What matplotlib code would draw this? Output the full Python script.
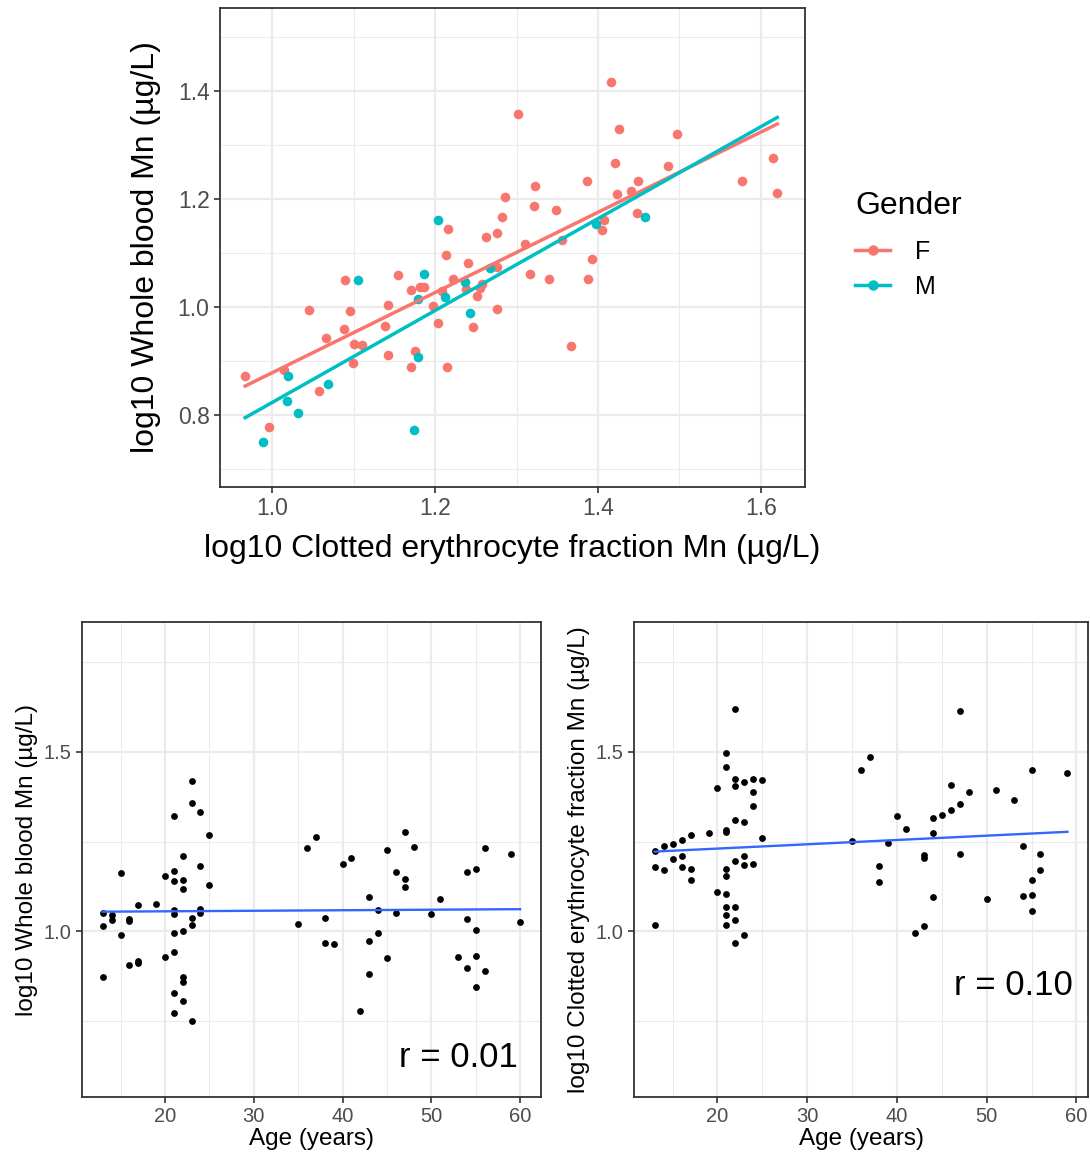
import matplotlib
matplotlib.use("Agg")
import matplotlib.pyplot as plt
from matplotlib.lines import Line2D
from matplotlib.ticker import MultipleLocator
import numpy as np

plt.rcParams['font.family'] = ['Liberation Sans', 'DejaVu Sans']

# top panel: clotted erythrocyte (x) vs whole blood (y), by gender
f_ce = [1.302, 1.216, 1.286, 1.282, 1.276, 1.262, 1.214, 1.240, 1.276, 1.154, 1.090, 1.222,
        0.967, 1.015, 0.996, 1.057, 1.045, 1.066, 1.088, 1.096, 1.101, 1.110, 1.099, 1.139,
        1.142, 1.142, 1.171, 1.182, 1.186, 1.198, 1.204, 1.175, 1.171, 1.215, 1.209, 1.238,
        1.258, 1.255, 1.251, 1.246, 1.276, 1.416, 1.426, 1.497, 1.421, 1.387, 1.323, 1.322,
        1.349, 1.423, 1.441, 1.449, 1.486, 1.577, 1.615, 1.620, 1.448, 1.407, 1.405, 1.356,
        1.311, 1.393, 1.317, 1.340, 1.388, 1.367]
f_wb = [1.357, 1.144, 1.204, 1.167, 1.138, 1.130, 1.097, 1.081, 1.075, 1.059, 1.050, 1.052,
        0.872, 0.883, 0.778, 0.844, 0.994, 0.943, 0.959, 0.993, 0.932, 0.930, 0.896, 0.966,
        1.004, 0.911, 1.031, 1.037, 1.037, 1.002, 0.971, 0.919, 0.889, 0.889, 1.030, 1.033,
        1.042, 1.036, 1.021, 0.963, 0.996, 1.417, 1.330, 1.320, 1.267, 1.234, 1.225, 1.188,
        1.180, 1.210, 1.215, 1.233, 1.262, 1.234, 1.276, 1.212, 1.175, 1.162, 1.142, 1.125,
        1.117, 1.090, 1.061, 1.052, 1.052, 0.928]
m_ce = [1.203, 1.268, 1.186, 1.105, 1.019, 1.018, 1.032, 0.989, 1.068, 1.179, 1.179, 1.174,
        1.212, 1.237, 1.243, 1.458, 1.398]
m_wb = [1.162, 1.072, 1.062, 1.050, 0.873, 0.826, 0.804, 0.750, 0.857, 1.016, 0.907, 0.772,
        1.018, 1.046, 0.990, 1.167, 1.154]

# bottom left: age vs whole blood
age_wb = [23, 23, 24, 21, 25, 22, 24, 15, 21, 20, 21, 22, 22, 25, 17, 19, 13, 14, 14, 13,
          16, 16, 15, 21, 21, 23, 23, 24, 24, 22, 21, 21, 20, 16, 17, 17, 13, 22, 22, 21,
          22, 21, 23, 36, 35, 37, 38, 38, 39, 40, 41, 43, 44, 43, 44, 43, 42, 45, 45, 46,
          46, 47, 47, 47, 48, 50, 51, 54, 55, 56, 54, 55, 53, 55, 54, 56, 55, 59, 60]
wb = [1.417, 1.358, 1.331, 1.320, 1.267, 1.211, 1.181, 1.162, 1.168, 1.154, 1.139, 1.143,
      1.117, 1.130, 1.074, 1.077, 1.050, 1.047, 1.032, 1.016, 1.035, 1.030, 0.990, 1.061,
      1.049, 1.037, 1.018, 1.063, 1.051, 1.001, 0.995, 0.943, 0.930, 0.908, 0.918, 0.912,
      0.873, 0.874, 0.860, 0.828, 0.806, 0.773, 0.752, 1.233, 1.022, 1.263, 1.038, 0.968,
      0.964, 1.188, 1.205, 1.097, 1.061, 0.973, 0.995, 0.883, 0.780, 1.226, 0.927, 1.164,
      1.050, 1.277, 1.145, 1.125, 1.235, 1.049, 1.090, 1.164, 1.175, 1.232, 1.035, 1.004,
      0.929, 0.933, 0.898, 0.889, 0.845, 1.214, 1.026]
# fitted line ends (age, value)
fit_wb_age = [13, 60]
fit_wb = [1.055, 1.062]

# bottom right: age vs clotted erythrocyte fraction
age_ce = [22, 21, 21, 20, 22, 22, 23, 24, 25, 24, 24, 22, 23, 21, 21, 25, 19, 17, 16, 15,
          14, 13, 13, 14, 15, 16, 16, 17, 17, 21, 21, 22, 23, 23, 24, 20, 21, 21, 22, 21,
          22, 21, 13, 23, 22, 36, 35, 37, 39, 38, 38, 40, 41, 43, 43, 44, 44, 45, 46, 46,
          47, 47, 47, 48, 44, 42, 43, 50, 51, 53, 54, 55, 56, 56, 55, 54, 55, 55, 59]
ce = [1.619, 1.496, 1.456, 1.398, 1.423, 1.403, 1.416, 1.424, 1.421, 1.387, 1.348, 1.311,
      1.304, 1.282, 1.276, 1.261, 1.275, 1.267, 1.253, 1.242, 1.237, 1.223, 1.179, 1.170,
      1.202, 1.210, 1.179, 1.173, 1.142, 1.174, 1.154, 1.197, 1.211, 1.186, 1.187, 1.110,
      1.103, 1.067, 1.069, 1.045, 1.032, 1.018, 1.019, 0.989, 0.968, 1.449, 1.251, 1.485,
      1.245, 1.181, 1.138, 1.321, 1.286, 1.213, 1.204, 1.316, 1.275, 1.323, 1.406, 1.338,
      1.614, 1.355, 1.215, 1.387, 1.095, 0.996, 1.014, 1.090, 1.392, 1.366, 1.237, 1.448,
      1.214, 1.170, 1.142, 1.099, 1.101, 1.058, 1.440]
fit_ce_age = [13, 59]
fit_ce = [1.222, 1.277]

r_left = "r = 0.01"
r_right = "r = 0.10"

RED = "#F8766D"
CYAN = "#00BFC4"
BLUE = "#3366FF"


def bw_style(ax, tick_size):
    ax.set_facecolor("white")
    for s in ax.spines.values():
        s.set_color("#333333")
        s.set_linewidth(1.3)
    ax.grid(True, which="major", color="#EBEBEB", linewidth=1.6, zorder=0)
    ax.grid(True, which="minor", color="#EBEBEB", linewidth=0.8, zorder=0)
    ax.set_axisbelow(True)
    ax.tick_params(which="major", length=4, width=1.2, color="#333333",
                   labelcolor="#4D4D4D", labelsize=tick_size)
    ax.tick_params(which="minor", length=0)


fig = plt.figure(figsize=(10.9, 11.59), dpi=100)

# ---- top panel
ax = fig.add_axes([0.2018, 0.5798, 0.5367, 0.4133])
bw_style(ax, 16.5)
xs_all = np.array(f_ce + m_ce)
xline = np.array([xs_all.min(), xs_all.max()])
for xs, ys, col in [(f_ce, f_wb, RED), (m_ce, m_wb, CYAN)]:
    ax.scatter(xs, ys, s=48, color=col, linewidths=0, zorder=3)
    k, b = np.polyfit(xs, ys, 1)
    ax.plot(xline, k * xline + b, color=col, lw=2.5, zorder=4)
ax.set_xlim(0.936, 1.654)
ax.set_ylim(0.667, 1.554)
ax.xaxis.set_major_locator(MultipleLocator(0.2))
ax.xaxis.set_minor_locator(MultipleLocator(0.1))
ax.yaxis.set_major_locator(MultipleLocator(0.2))
ax.yaxis.set_minor_locator(MultipleLocator(0.1))
ax.xaxis.set_major_formatter(plt.FormatStrFormatter("%.1f"))
ax.yaxis.set_major_formatter(plt.FormatStrFormatter("%.1f"))
ax.set_xlabel("log10 Clotted erythrocyte fraction Mn (µg/L)", fontsize=23, labelpad=10)
ax.set_ylabel("log10 Whole blood Mn (µg/L)", fontsize=23, labelpad=12)

handles = [Line2D([], [], color=RED, lw=2.5, marker="o", markersize=6.5),
           Line2D([], [], color=CYAN, lw=2.5, marker="o", markersize=6.5)]
leg = fig.legend(handles, ["F", "M"], title="Gender", loc="upper left",
                 bbox_to_anchor=(0.764, 0.855), frameon=False, fontsize=18,
                 title_fontsize=23, handlelength=1.4, labelspacing=0.45,
                 handletextpad=1.0)
leg._legend_box.align = "left"
leg._legend_box.sep = 14

# ---- bottom panels
panels = [([0.0752, 0.0535, 0.4211, 0.4098], age_wb, wb, fit_wb_age, fit_wb,
           "log10 Whole blood Mn (µg/L)", r_left, 0.65),
          ([0.5817, 0.0535, 0.4165, 0.4098], age_ce, ce, fit_ce_age, fit_ce,
           "log10 Clotted erythrocyte fraction Mn (µg/L)", r_right, 0.85)]
for pos, ages, vals, fx, fy, ylab, rtxt, ry in panels:
    ax = fig.add_axes(pos)
    bw_style(ax, 14.5)
    ax.scatter(ages, vals, s=24, color="black", linewidths=0, zorder=3)
    ax.plot(fx, fy, color=BLUE, lw=1.7, zorder=4)
    lo, hi = min(ages), max(ages)
    pad = (hi - lo) * 0.05
    ax.set_xlim(lo - pad, hi + pad)
    ax.set_ylim(0.54, 1.86)
    ax.xaxis.set_major_locator(MultipleLocator(10))
    ax.xaxis.set_minor_locator(MultipleLocator(5))
    ax.yaxis.set_major_locator(MultipleLocator(0.5))
    ax.yaxis.set_minor_locator(MultipleLocator(0.25))
    ax.yaxis.set_major_formatter(plt.FormatStrFormatter("%.1f"))
    ax.set_xlabel("Age (years)", fontsize=17.5, labelpad=1)
    ax.set_ylabel(ylab, fontsize=17.5, labelpad=4)
    ax.text(53, ry, rtxt, fontsize=25, ha="center", va="center", zorder=5)

fig.savefig("out.png", dpi=100)
